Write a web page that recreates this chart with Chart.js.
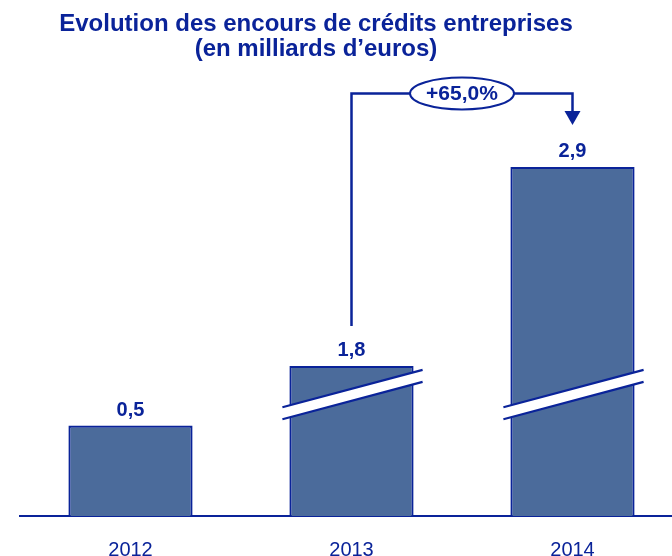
<!DOCTYPE html>
<html>
<head>
<meta charset="utf-8">
<script src="https://cdn.jsdelivr.net/npm/chart.js@4/dist/chart.umd.min.js"></script>
<style>
  html, body { margin: 0; padding: 0; background: #fff; overflow: hidden; }
  #wrap { width: 672px; height: 556px; overflow: hidden; position: relative; }
  canvas { display: block; }
</style>
</head>
<body>
<div id="wrap"><canvas id="c" width="683" height="584"></canvas></div>
<script>
// ---- data ----
const categories = ['2012', '2013', '2014'];
const values = [0.5, 1.8, 2.9];               // milliards d'euros
const valueLabels = ['0,5', '1,8', '2,9'];
const growthLabel = '+65,0%';
const titleLines = ['Evolution des encours de crédits entreprises', '(en milliards d\u2019euros)'];

// broken value axis (the picture cuts a slice out of the taller bars)
const AXIS_BREAK_AT = 0.67;   // where the cut sits, in axis units
const AXIS_BREAK_GAP = 0.97;  // amount of value hidden by the cut
const isBroken = values.map(v => v > AXIS_BREAK_AT + AXIS_BREAK_GAP);
const drawnValues = values.map((v, i) => isBroken[i] ? v - AXIS_BREAK_GAP : v);

const DARK = '#0a2399';
const FILL = '#4b6b9b';
const FONT = '"Liberation Sans", Arial, sans-serif';

const titlePlugin = {
  id: 'titleText',
  afterDraw(chart) {
    const ctx = chart.ctx;
    ctx.save();
    ctx.fillStyle = DARK;
    ctx.font = 'bold 24px ' + FONT;
    ctx.textAlign = 'center';
    ctx.textBaseline = 'alphabetic';
    ctx.fillText(titleLines[0], 316, 31);
    ctx.fillText(titleLines[1], 316, 56);
    ctx.restore();
  }
};

const barDecor = {
  id: 'barDecor',
  afterDatasetsDraw(chart) {
    const ctx = chart.ctx;
    const meta = chart.getDatasetMeta(0);
    const yScale = chart.scales.y;
    ctx.save();
    // axis-break bands
    meta.data.forEach((bar, i) => {
      if (!isBroken[i]) return;
      const p = bar.getProps(['x', 'width'], true);
      const yc = yScale.getPixelForValue(AXIS_BREAK_AT);
      const x0 = p.x - p.width / 2 - 7, x1 = p.x + p.width / 2 + 9;
      const k = 0.266, h = 6;
      const yAt = (xx, off) => yc - (xx - p.x) * k + off;
      ctx.beginPath();
      ctx.moveTo(x0, yAt(x0, -h));
      ctx.lineTo(x1, yAt(x1, -h));
      ctx.lineTo(x1, yAt(x1, h));
      ctx.lineTo(x0, yAt(x0, h));
      ctx.closePath();
      ctx.fillStyle = '#ffffff';
      ctx.fill();
      ctx.strokeStyle = DARK;
      ctx.lineWidth = 2.2;
      ctx.beginPath();
      ctx.moveTo(x0, yAt(x0, -h)); ctx.lineTo(x1, yAt(x1, -h));
      ctx.moveTo(x0, yAt(x0, h)); ctx.lineTo(x1, yAt(x1, h));
      ctx.stroke();
    });
    // value labels
    ctx.fillStyle = DARK;
    ctx.font = 'bold 20px ' + FONT;
    ctx.textAlign = 'center';
    ctx.textBaseline = 'alphabetic';
    meta.data.forEach((bar, i) => {
      const p = bar.getProps(['x', 'y'], true);
      ctx.fillText(valueLabels[i], p.x, p.y - 10);
    });
    // growth annotation 2013 -> 2014
    const b1 = meta.data[1].getProps(['x', 'y'], true);
    const b2 = meta.data[2].getProps(['x', 'y'], true);
    const yLine = chart.chartArea.top - 6.5;
    const tip = b2.y - 42;
    ctx.strokeStyle = DARK;
    ctx.lineWidth = 2.5;
    ctx.beginPath();
    ctx.moveTo(b1.x, b1.y - 40);
    ctx.lineTo(b1.x, yLine);
    ctx.lineTo(b2.x, yLine);
    ctx.lineTo(b2.x, tip - 13);
    ctx.stroke();
    ctx.fillStyle = DARK;
    ctx.beginPath();
    ctx.moveTo(b2.x - 8, tip - 14);
    ctx.lineTo(b2.x + 8, tip - 14);
    ctx.lineTo(b2.x, tip);
    ctx.closePath();
    ctx.fill();
    const cx = (b1.x + b2.x) / 2;
    ctx.beginPath();
    ctx.ellipse(cx, yLine, 52, 16, 0, 0, Math.PI * 2);
    ctx.fillStyle = '#ffffff';
    ctx.fill();
    ctx.lineWidth = 2;
    ctx.stroke();
    ctx.fillStyle = DARK;
    ctx.font = 'bold 21px ' + FONT;
    ctx.textBaseline = 'middle';
    ctx.fillText(growthLabel, cx, yLine + 1);
    ctx.restore();
  }
};

new Chart(document.getElementById('c'), {
  type: 'bar',
  data: {
    labels: categories,
    datasets: [{
      data: drawnValues,
      backgroundColor: FILL,
      borderColor: DARK,
      borderWidth: 2.2,
      borderSkipped: 'bottom',
      categoryPercentage: 1,
      barPercentage: 0.562
    }]
  },
  options: {
    responsive: false,
    animation: false,
    devicePixelRatio: 1,
    layout: { padding: { left: 20, top: 100, right: 0, bottom: 0 } },
    plugins: { legend: { display: false }, title: { display: false }, tooltip: { enabled: false } },
    scales: {
      y: { display: false, min: 0, max: 2.3 },
      x: {
        grid: { display: false, drawTicks: false },
        border: { display: true, color: DARK, width: 2 },
        ticks: {
          color: DARK,
          padding: 26,
          font: { family: FONT, size: 20, lineHeight: '16px' }
        }
      }
    }
  },
  plugins: [titlePlugin, barDecor]
});
</script>
</body>
</html>
